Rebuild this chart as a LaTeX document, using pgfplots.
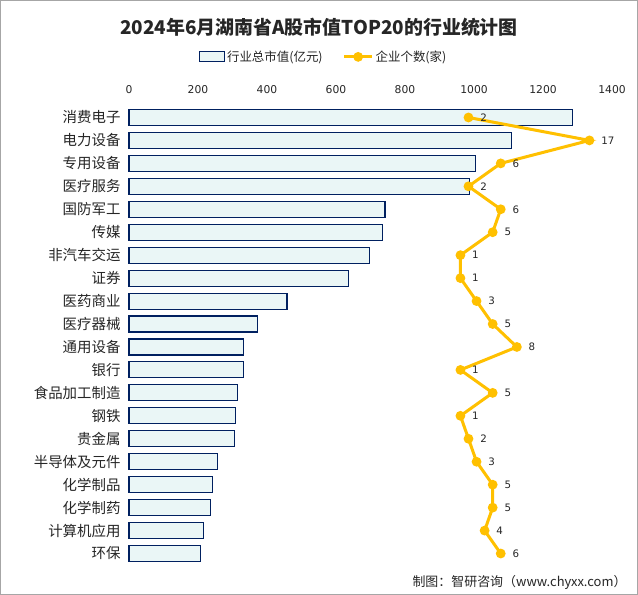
\documentclass[border=0pt]{standalone}
\usepackage{pgfplots}
\pgfplotsset{compat=1.18}
\usepackage{pgfplotstable}
\usepackage{fontspec}
\setmainfont{Noto Sans CJK SC}
\newfontfamily\numfont{DejaVu Sans}
\definecolor{gold}{RGB}{255,192,0}
\definecolor{barfill}{RGB}{234,246,246}
\definecolor{barline}{RGB}{0,32,96}
\definecolor{txt}{RGB}{38,38,38}
\pgfplotstableread{
idx val cnt
0 1285 2
1 1109 17
2 1005 6
3 988 2
4 742 6
5 736 5
6 698 1
7 637 1
8 458 3
9 372 5
10 332 8
11 332 1
12 314 5
13 309 1
14 306 2
15 257 3
16 242 5
17 236 5
18 216 4
19 207 6
}\datatable
\begin{document}
\begin{tikzpicture}[x=1bp,y=1bp]
\fill[white] (0,0) rectangle (638,595);
\draw[black!35, line width=1.2bp] (0.6,0.6) rectangle (637.4,594.4);
\node[font=\bfseries\fontsize{19}{22}\selectfont, text=txt] at (319,568) {2024年6月湖南省A股市值TOP20的行业统计图};
\node[anchor=east, font=\fontsize{13}{15}\selectfont, text=txt] at (630,13) {制图：智研咨询（www.chyxx.com）};
\begin{axis}[at={(129bp,30bp)}, anchor=south west, scale only axis,
  width=483bp, height=459bp,
  xmin=0, xmax=1400, ymin=-0.5, ymax=19.5, y dir=reverse,
  clip=false,
  axis line style={draw=none}, major tick style={draw=none},
  xtick={0,200,...,1400}, xticklabel pos=right,
  ytick={0,...,19},
  yticklabels={消费电子,电力设备,专用设备,医疗服务,国防军工,传媒,非汽车交运,证券,医药商业,医疗器械,通用设备,银行,食品加工制造,钢铁,贵金属,半导体及元件,化学制品,化学制药,计算机应用,环保},
  xticklabel style={font=\numfont\fontsize{10.8}{13}\selectfont, text=txt, yshift=9bp,
    /pgf/number format/1000 sep={}},
  yticklabel style={font=\fontsize{14.5}{16}\selectfont, text=txt, xshift=-5bp},
  /pgf/number format/assume math mode=true,
  legend style={at={(0.403,1.107)}, anchor=center, draw=none, fill=none,
    legend columns=2, font=\fontsize{12.5}{14}\selectfont, text=txt,
    /tikz/every even column/.append style={column sep=18bp}},
]
\addplot[xbar, bar width=16bp, fill=barfill, draw=barline, line width=1.1bp,
  legend image code/.code={\draw[fill=barfill, draw=barline, line width=1.1bp] (0bp,-5bp) rectangle (25bp,5bp);}]
  table[x=val, y=idx] {\datatable};
\addlegendentry{行业总市值(亿元)}
\addlegendimage{gold, line width=3bp,
  legend image code/.code={\draw[gold, line width=3bp] (0bp,0bp) -- (28bp,0bp); \fill[gold] (14bp,0bp) circle (3.3bp);}}
\addlegendentry{企业个数(家)}
\end{axis}
\begin{axis}[at={(129bp,30bp)}, anchor=south west, scale only axis,
  width=483bp, height=459bp,
  xmin=-40.1, xmax=19.8, ymin=-0.5, ymax=19.5, y dir=reverse,
  clip=false, hide axis,
  /pgf/number format/assume math mode=true]
\addplot[gold, line width=3bp, mark=*, mark size=3.3bp,
  mark options={solid, fill=gold, draw=gold},
  point meta=explicit,
  nodes near coords,
  nodes near coords style={anchor=west, xshift=7bp, text=txt, font=\numfont\fontsize{10.3}{12}\selectfont},
  ] table[x=cnt, y=idx, meta=cnt] {\datatable};
\end{axis}
\end{tikzpicture}
\end{document}
